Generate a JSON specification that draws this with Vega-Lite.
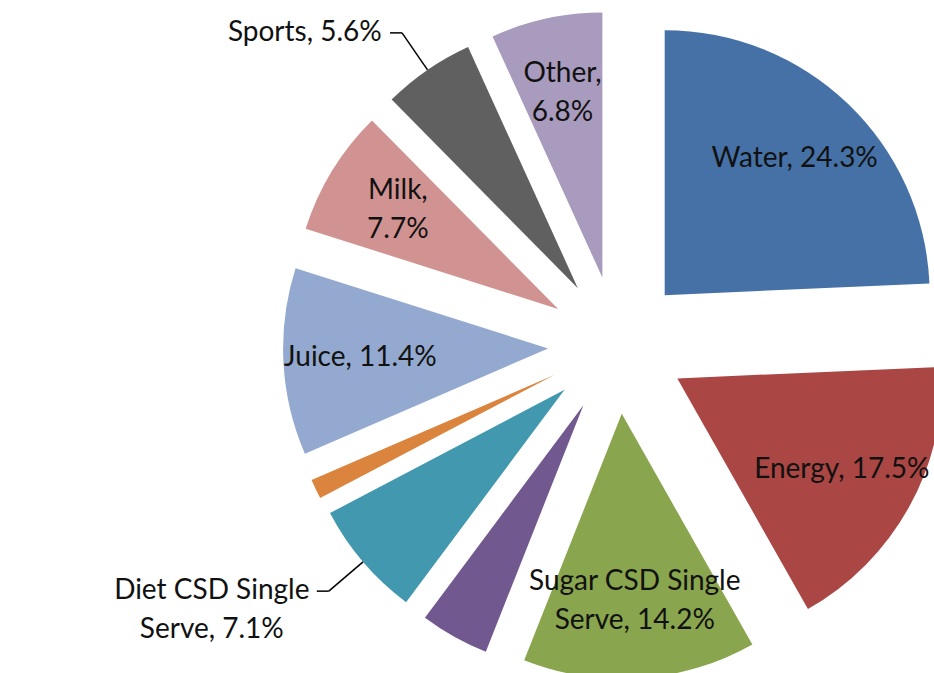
{
  "$schema": "https://vega.github.io/schema/vega-lite/v6.json",
  "width": 934,
  "height": 673,
  "autosize": {"type": "none"},
  "padding": 0,
  "background": "white",
  "config": {"view": {"stroke": null}},
  "data": {
    "values": [
      {"name": "Water", "value": 24.3, "label": "Water, 24.3%"},
      {"name": "Energy", "value": 17.5, "label": "Energy, 17.5%"},
      {"name": "Sugar CSD Single Serve", "value": 14.2, "label": "Sugar CSD Single\nServe, 14.2%"},
      {"name": "Unlabeled 1", "value": 4.2, "label": ""},
      {"name": "Diet CSD Single Serve", "value": 7.1, "label": "Diet CSD Single\nServe, 7.1%"},
      {"name": "Unlabeled 2", "value": 1.2, "label": ""},
      {"name": "Juice", "value": 11.4, "label": "Juice, 11.4%"},
      {"name": "Milk", "value": 7.7, "label": "Milk,\n7.7%"},
      {"name": "Sports", "value": 5.6, "label": "Sports, 5.6%"},
      {"name": "Other", "value": 6.8, "label": "Other,\n6.8%"}
    ]
  },
  "transform": [
    {"window": [{"op": "sum", "field": "value", "as": "v1"}], "frame": [null, 0]},
    {"calculate": "datum.v1 - datum.value", "as": "v0"},
    {"calculate": "(datum.v0 + datum.v1) / 100 * PI", "as": "mid"},
    {"calculate": "69 * sin(datum.mid)", "as": "cx"},
    {"calculate": "-69 * cos(datum.mid)", "as": "cy"},
    {"calculate": "indexof(['Sports', 'Diet CSD Single Serve'], datum.name) >= 0", "as": "outside"},
    {"calculate": "datum.cx + 265 * sin(datum.mid)", "as": "ox"},
    {"calculate": "datum.cy - 265 * cos(datum.mid)", "as": "oy"},
    {"calculate": "datum.cx + 310 * sin(datum.mid)", "as": "ex"},
    {"calculate": "datum.cy - 310 * cos(datum.mid)", "as": "ey"},
    {"calculate": "sin(datum.mid) < 0 ? -1 : 1", "as": "side"},
    {"calculate": "datum.ex + datum.side * 12", "as": "tx"},
    {"calculate": "split(datum.label, '\\n')", "as": "lines"},
    {"calculate": "datum.outside ? datum.tx + datum.side * (6 + 6.6 * length(datum.lines[0])) : datum.cx + 188 * sin(datum.mid)", "as": "lx"},
    {"calculate": "datum.outside ? datum.ey : datum.cy - 188 * cos(datum.mid) - (length(datum.lines) - 1) * 19.5", "as": "ly"}
  ],
  "layer": [
    {
      "mark": {"type": "arc", "radius": 265},
      "encoding": {
        "theta": {"field": "v0", "type": "quantitative", "stack": null, "scale": {"domain": [0, 100], "range": [0, 6.283185307]}},
        "theta2": {"field": "v1"},
        "x": {"field": "cx", "type": "quantitative", "scale": {"domain": [-617, 317], "range": [0, 934], "nice": false, "zero": false}, "axis": null},
        "y": {"field": "cy", "type": "quantitative", "scale": {"domain": [-345, 328], "range": [0, 673], "nice": false, "zero": false}, "axis": null},
        "color": {
          "field": "name",
          "type": "nominal",
          "legend": null,
          "scale": {
            "domain": ["Water", "Energy", "Sugar CSD Single Serve", "Unlabeled 1", "Diet CSD Single Serve", "Unlabeled 2", "Juice", "Milk", "Sports", "Other"],
            "range": ["#4571A6", "#AA4643", "#89A54E", "#71588F", "#4198AF", "#DB843D", "#93A9CF", "#D19392", "#606060", "#A99BBD"]
          }
        }
      }
    },
    {
      "transform": [{"filter": "datum.outside"}],
      "mark": {"type": "rule", "color": "#000000", "strokeWidth": 1.5},
      "encoding": {
        "x": {"field": "ox", "type": "quantitative", "scale": {"domain": [-617, 317], "range": [0, 934], "nice": false, "zero": false}, "axis": null},
        "y": {"field": "oy", "type": "quantitative", "scale": {"domain": [-345, 328], "range": [0, 673], "nice": false, "zero": false}, "axis": null},
        "x2": {"field": "ex"},
        "y2": {"field": "ey"}
      }
    },
    {
      "transform": [{"filter": "datum.outside"}],
      "mark": {"type": "rule", "color": "#000000", "strokeWidth": 1.5},
      "encoding": {
        "x": {"field": "ex", "type": "quantitative", "scale": {"domain": [-617, 317], "range": [0, 934], "nice": false, "zero": false}, "axis": null},
        "y": {"field": "ey", "type": "quantitative", "scale": {"domain": [-345, 328], "range": [0, 673], "nice": false, "zero": false}, "axis": null},
        "x2": {"field": "tx"}
      }
    },
    {
      "transform": [{"filter": "datum.label != ''"}],
      "mark": {"type": "text", "font": "Lato", "fontSize": 28, "lineHeight": 39, "lineBreak": "\n", "align": "center", "baseline": "middle", "color": "#111111"},
      "encoding": {
        "x": {"field": "lx", "type": "quantitative", "scale": {"domain": [-617, 317], "range": [0, 934], "nice": false, "zero": false}, "axis": null},
        "y": {"field": "ly", "type": "quantitative", "scale": {"domain": [-345, 328], "range": [0, 673], "nice": false, "zero": false}, "axis": null},
        "text": {"field": "label"}
      }
    }
  ]
}
